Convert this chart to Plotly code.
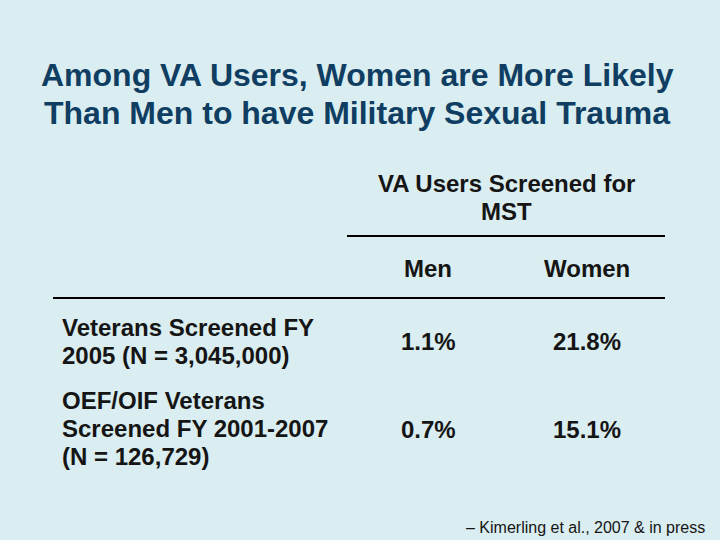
import plotly.graph_objects as go

title_lines = ["Among VA Users, Women are More Likely", "Than Men to have Military Sexual Trauma"]
group_header = ["VA Users Screened for", "MST"]
columns = ["Men", "Women"]
row_labels = [
    ["Veterans Screened FY", "2005 (N = 3,045,000)"],
    ["OEF/OIF Veterans", "Screened FY 2001-2007", "(N = 126,729)"],
]
men_pct = [1.1, 0.7]
women_pct = [21.8, 15.1]
citation = "– Kimerling et al., 2007 & in press"

BG = "#DAEDF0"
TITLE_C = "#0F3E62"
TEXT_C = "#151515"
FONT = "Liberation Sans, Arial, sans-serif"
BODY = 24

fig = go.Figure()
ann = []

# title
for i, t in enumerate(title_lines):
    ann.append(dict(x=357, y=75 + 38 * i, text=t, showarrow=False,
                    font=dict(size=32, color=TITLE_C, family=FONT, weight="bold"),
                    xanchor="center", yanchor="middle"))

# group header
for i, t in enumerate(group_header):
    ann.append(dict(x=506, y=183 + 28 * i, text=t, showarrow=False,
                    font=dict(size=BODY, color=TEXT_C, family=FONT, weight="bold"),
                    xanchor="center", yanchor="middle"))

col_x = [428, 587]
for cx, c in zip(col_x, columns):
    ann.append(dict(x=cx, y=268, text=c, showarrow=False,
                    font=dict(size=BODY, color=TEXT_C, family=FONT, weight="bold"),
                    xanchor="center", yanchor="middle"))

row_first_y = [327, 400]
row_val_y = [341, 429]
for r, lines in enumerate(row_labels):
    for j, t in enumerate(lines):
        ann.append(dict(x=60, y=row_first_y[r] + 28 * j, text=t, showarrow=False,
                        font=dict(size=BODY, color=TEXT_C, family=FONT, weight="bold"),
                        xanchor="left", yanchor="middle"))
    for cx, v in zip(col_x, [men_pct[r], women_pct[r]]):
        ann.append(dict(x=cx, y=row_val_y[r], text=f"{v:.1f}%", showarrow=False,
                        font=dict(size=BODY, color=TEXT_C, family=FONT, weight="bold"),
                        xanchor="center", yanchor="middle"))

ann.append(dict(x=707, y=527, text=citation, showarrow=False,
                font=dict(size=16, color=TEXT_C, family=FONT),
                xanchor="right", yanchor="middle"))

shapes = [
    dict(type="line", x0=347, x1=665, y0=236, y1=236, xref="x", yref="y",
         line=dict(color="#000000", width=2)),
    dict(type="line", x0=53, x1=665, y0=298, y1=298, xref="x", yref="y",
         line=dict(color="#000000", width=2)),
]

fig.update_layout(
    width=720, height=540,
    margin=dict(l=0, r=0, t=0, b=0),
    paper_bgcolor=BG, plot_bgcolor=BG,
    xaxis=dict(range=[0, 720], visible=False, fixedrange=True),
    yaxis=dict(range=[540, 0], visible=False, fixedrange=True),
    annotations=ann, shapes=shapes, showlegend=False,
)

fig.write_html("out.html", config={"displayModeBar": False},
               post_script="document.body.style.margin='0';document.body.style.background='" + BG + "';")
